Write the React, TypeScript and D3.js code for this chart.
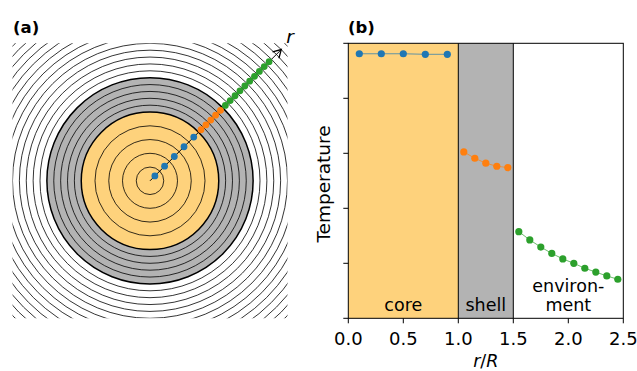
import React from 'react';
import * as d3 from 'd3';

// ---- data ----
const coreR = [0.1, 0.3, 0.5, 0.7, 0.9];
const coreT = [0.962, 0.962, 0.962, 0.96, 0.96];
const shellR = [1.05, 1.15, 1.25, 1.35, 1.45];
const shellT = [0.605, 0.582, 0.564, 0.553, 0.548];
const envR = [1.55, 1.65, 1.75, 1.85, 1.95, 2.05, 2.15, 2.25, 2.35, 2.45];
const envT = [0.315, 0.285, 0.259, 0.236, 0.216, 0.2, 0.182, 0.168, 0.154, 0.142];

const coreRings = [0.2, 0.4, 0.6, 0.8];
const shellRings = [1.1, 1.2, 1.3, 1.4];
const envRings = [1.6, 1.7, 1.8, 1.9, 2.0, 2.1, 2.2, 2.3, 2.4, 2.5, 2.6, 2.7, 2.8, 2.9];
const boundaries = [1.0, 1.5];
const arrowEnd = 2.7;

const xTicks = [0, 0.5, 1.0, 1.5, 2.0, 2.5];
const yTicks = [0, 0.2, 0.4, 0.6, 0.8, 1.0];

const regions = [
  { from: 0, to: 1.0, fill: '#fed27c', label: ['core'] },
  { from: 1.0, to: 1.5, fill: '#b3b3b3', label: ['shell'] },
  { from: 1.5, to: 2.5, fill: '#ffffff', label: ['environ-', 'ment'] },
];

const BLUE = '#1f77b4';
const ORANGE = '#ff7f0e';
const GREEN = '#2ca02c';
const FONT = 'DejaVu Sans, sans-serif';

export default function App() {
  const width = 637;
  const height = 371;
  const top = 43.3;
  const bottom = 318.3;

  // panel (a)
  const ax = d3.scaleLinear().domain([-2, 2]).range([12.5, 287.5]);
  const ay = d3.scaleLinear().domain([-2, 2]).range([bottom, top]);
  const unit = ax(1) - ax(0);
  const diag = (r: number) => [ax(r * Math.SQRT1_2), ay(r * Math.SQRT1_2)];

  // panel (b)
  const bx = d3.scaleLinear().domain([0, 2.5]).range([348.3, 623.3]);
  const by = d3.scaleLinear().domain([0, 1]).range([bottom, top]);

  const line = d3.line<[number, number]>().x(d => bx(d[0])).y(d => by(d[1]));
  const series = [
    { r: coreR, t: coreT, color: BLUE },
    { r: shellR, t: shellT, color: ORANGE },
    { r: envR, t: envT, color: GREEN },
  ];

  const [tx, ty] = diag(arrowEnd);
  const [ox, oy] = diag(0);
  const ang = Math.atan2(ty - oy, tx - ox);
  const headLen = 9;
  const headA = Math.PI / 6;
  const head = `M${tx - headLen * Math.cos(ang - headA)},${ty - headLen * Math.sin(ang - headA)} L${tx},${ty} L${tx - headLen * Math.cos(ang + headA)},${ty - headLen * Math.sin(ang + headA)}`;

  return (
    <svg width={width} height={height} style={{ position: 'absolute', left: 0, top: 0, background: 'white' }}>
      <defs>
        <clipPath id="clipA">
          <rect x={ax(-2)} y={ay(2)} width={ax(2) - ax(-2)} height={ay(-2) - ay(2)} />
        </clipPath>
      </defs>

      {/* panel (a) */}
      <text x={13} y={32.5} fontFamily={FONT} fontSize={16.5} fontWeight="bold">(a)</text>
      <g clipPath="url(#clipA)">
        <circle cx={ax(0)} cy={ay(0)} r={1.5 * unit} fill="#b3b3b3" />
        <circle cx={ax(0)} cy={ay(0)} r={1.0 * unit} fill="#fed27c" />
        {[...coreRings, ...shellRings, ...envRings].map(r => (
          <circle key={r} cx={ax(0)} cy={ay(0)} r={r * unit} fill="none" stroke="black" strokeWidth={0.8} />
        ))}
        {boundaries.map(r => (
          <circle key={'b' + r} cx={ax(0)} cy={ay(0)} r={r * unit} fill="none" stroke="black" strokeWidth={1.5} />
        ))}
      </g>
      <line x1={ox} y1={oy} x2={tx} y2={ty} stroke="black" strokeWidth={1} />
      <path d={head} fill="none" stroke="black" strokeWidth={1.3} />
      <text x={tx + 5} y={ty - 7} fontFamily={FONT} fontSize={18.5} fontStyle="italic">r</text>
      {series.map(s =>
        s.r.map(r => {
          const [cx, cy] = diag(r);
          return <circle key={s.color + r} cx={cx} cy={cy} r={3.4} fill={s.color} />;
        })
      )}

      {/* panel (b) */}
      <text x={348} y={32.5} fontFamily={FONT} fontSize={16.5} fontWeight="bold">(b)</text>
      {regions.map(g => (
        <g key={g.from}>
          <rect x={bx(g.from)} y={top} width={bx(g.to) - bx(g.from)} height={bottom - top} fill={g.fill} />
          {g.label.map((l, i) => (
            <text key={l} x={bx((g.from + g.to) / 2)} y={311 - (g.label.length - 1 - i) * 19.5}
              textAnchor="middle" fontFamily={FONT} fontSize={17.5}>{l}</text>
          ))}
        </g>
      ))}
      {boundaries.map(b => (
        <line key={b} x1={bx(b)} x2={bx(b)} y1={top} y2={bottom} stroke="black" strokeWidth={1} />
      ))}
      {series.map(s => (
        <g key={s.color}>
          <path d={line(s.r.map((r, i) => [r, s.t[i]] as [number, number])) || ''} fill="none" stroke={s.color} strokeOpacity={0.7} strokeWidth={1} />
          {s.r.map((r, i) => (
            <circle key={r} cx={bx(r)} cy={by(s.t[i])} r={3.6} fill={s.color} />
          ))}
        </g>
      ))}
      <rect x={bx(0)} y={top} width={bx(2.5) - bx(0)} height={bottom - top} fill="none" stroke="black" strokeWidth={1} />
      {xTicks.map(t => (
        <g key={t}>
          <line x1={bx(t)} x2={bx(t)} y1={bottom} y2={bottom + 5} stroke="black" strokeWidth={1} />
          <text x={bx(t)} y={344.8} textAnchor="middle" fontFamily={FONT} fontSize={18}>{t.toFixed(1)}</text>
        </g>
      ))}
      {yTicks.map(t => (
        <line key={t} x1={bx(0) - 5} x2={bx(0)} y1={by(t)} y2={by(t)} stroke="black" strokeWidth={1} />
      ))}
      <text transform={`translate(330,184) rotate(-90)`} textAnchor="middle" fontFamily={FONT} fontSize={18.5}>Temperature</text>
      <text x={bx(1.25)} y={367} textAnchor="middle" fontFamily={FONT} fontSize={17.5}>
        <tspan fontStyle="italic">r</tspan>/<tspan fontStyle="italic">R</tspan>
      </text>
    </svg>
  );
}
